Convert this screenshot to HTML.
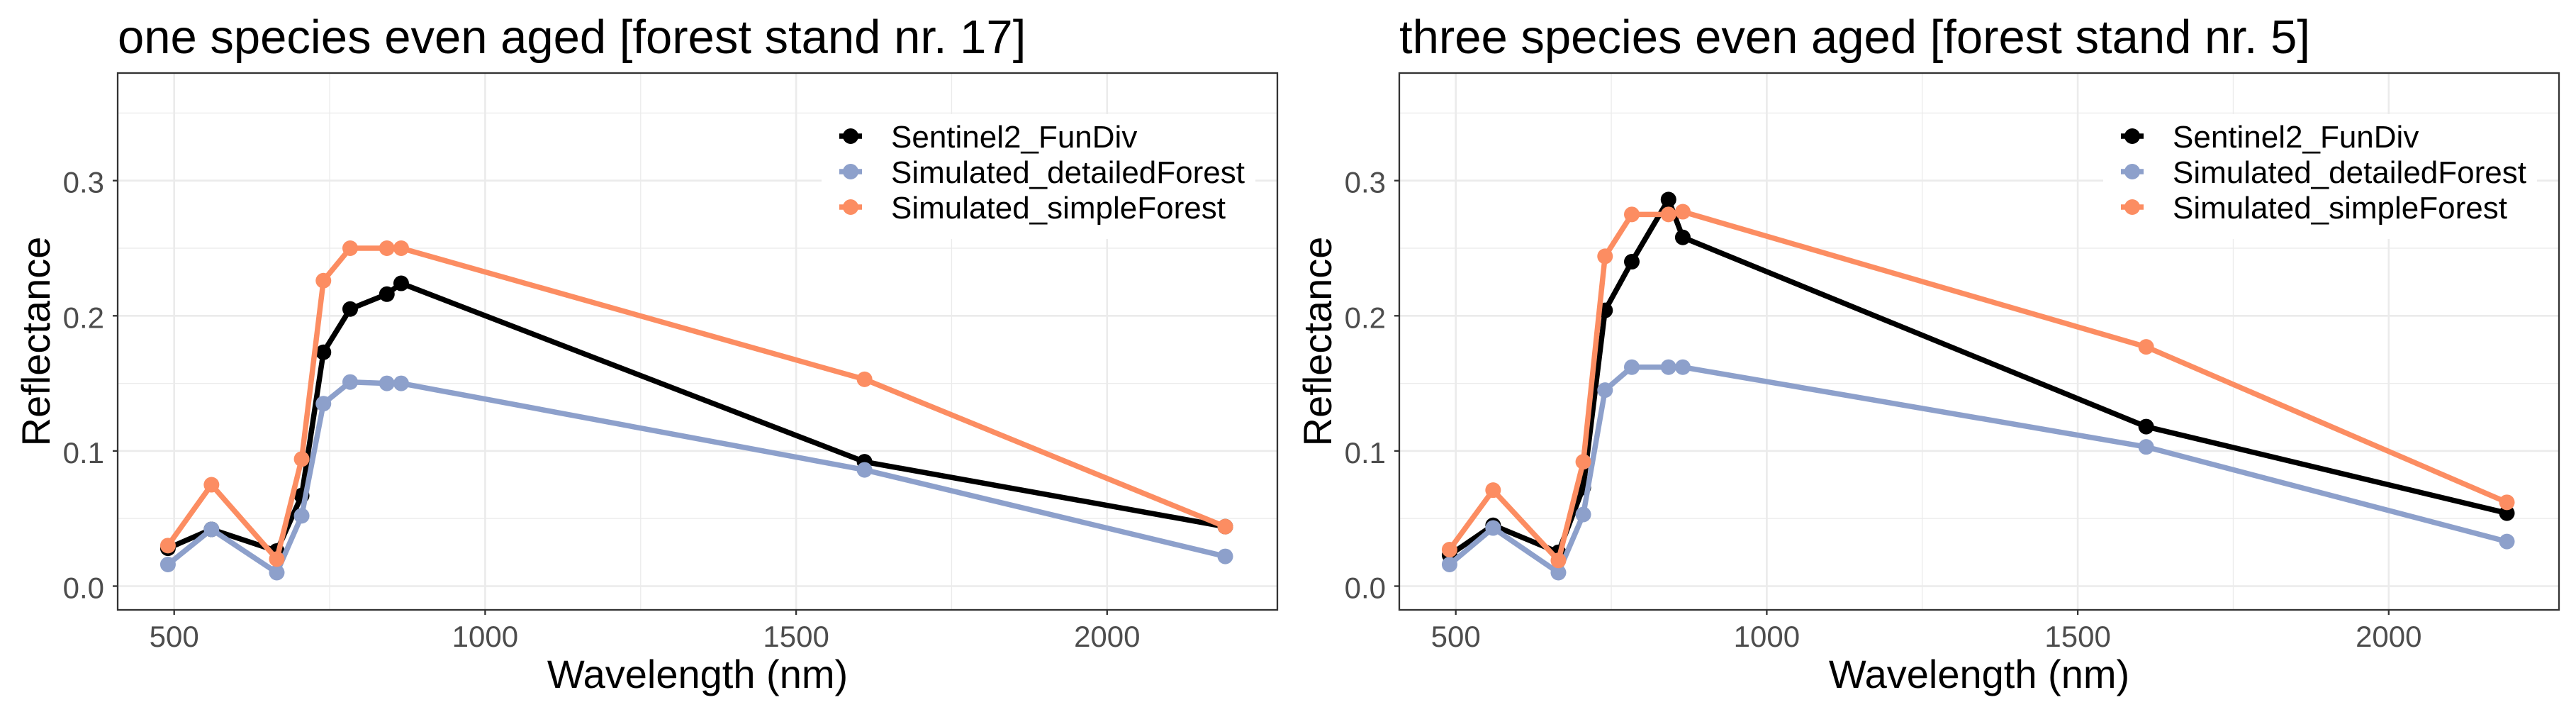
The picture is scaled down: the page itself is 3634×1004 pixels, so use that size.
<!DOCTYPE html>
<html><head><meta charset="utf-8"><style>
html,body{margin:0;padding:0;background:#fff;}
svg{display:block;font-family:"Liberation Sans",Arial,sans-serif;}
</style></head><body>
<svg id="chart" width="3634" height="1004" viewBox="0 0 3634 1004" xmlns="http://www.w3.org/2000/svg"></svg>
<script>
const wavelengths = [490,560,665,705,740,783,842,865,1610,2190];
const seriesNames = ["Sentinel2_FunDiv","Simulated_detailedForest","Simulated_simpleForest"];
const seriesColors = ["#000000","#8DA0CB","#FC8D62"];
const titles = ["one species even aged [forest stand nr. 17]","three species even aged [forest stand nr. 5]"];
const p1Sentinel = [0.028,0.042,0.026,0.067,0.173,0.205,0.216,0.224,0.092,0.044];
const p1Detailed = [0.016,0.042,0.010,0.052,0.135,0.151,0.150,0.150,0.086,0.022];
const p1Simple   = [0.030,0.075,0.020,0.094,0.226,0.250,0.250,0.250,0.153,0.044];
const p2Sentinel = [0.023,0.045,0.025,0.073,0.204,0.240,0.286,0.258,0.118,0.054];
const p2Detailed = [0.016,0.043,0.010,0.053,0.145,0.162,0.162,0.162,0.103,0.033];
const p2Simple   = [0.027,0.071,0.019,0.092,0.244,0.275,0.275,0.277,0.177,0.062];
const xTicks = [500,1000,1500,2000];
const xMinor = [750,1250,1750];
const yTicks = [0,0.1,0.2,0.3];
const yTickLabels = ["0.0","0.1","0.2","0.3"];
const yMinor = [0.05,0.15,0.25,0.35];

const NS="http://www.w3.org/2000/svg";
const svg=document.getElementById('chart');
function mk(tag,attrs,parent){const e=document.createElementNS(NS,tag);for(const k in attrs)e.setAttribute(k,attrs[k]);(parent||svg).appendChild(e);return e;}

function panel(idx, off, data){
  const g=mk('g',{});
  
  
  const L=166+off,R=1802+off,T=103,B=860;
  const xs=w=>245.7+off+(w-500)*0.8774;
  const ys=v=>826.5-v*1906;
  for(const m of xMinor){const l=mk('line',{x1:xs(m),x2:xs(m),y1:T,y2:B,stroke:'#EBEBEB','stroke-width':1.3},g);}
  for(const m of yMinor){const l=mk('line',{x1:L,x2:R,y1:ys(m),y2:ys(m),stroke:'#EBEBEB','stroke-width':1.3},g);}
  xTicks.forEach(t=>{const l=mk('line',{x1:xs(t),x2:xs(t),y1:T,y2:B,stroke:'#EBEBEB','stroke-width':2.6},g);
    const tk=mk('line',{x1:xs(t),x2:xs(t),y1:B,y2:B+7,stroke:'#333','stroke-width':2.3},g);
    const tx=mk('text',{x:xs(t),y:912,'text-anchor':'middle','font-size':42,fill:'#4D4D4D'},g);tx.textContent=t;});
  yTicks.forEach((t,i)=>{const l=mk('line',{x1:L,x2:R,y1:ys(t),y2:ys(t),stroke:'#EBEBEB','stroke-width':2.6},g);
    const tk=mk('line',{x1:L-7,x2:L,y1:ys(t),y2:ys(t),stroke:'#333','stroke-width':2.3},g);
    const tx=mk('text',{x:L-19,y:ys(t)+17,'text-anchor':'end','font-size':42,fill:'#4D4D4D'},g);tx.textContent=yTickLabels[i];});
  const lb=mk('rect',{x:1159+off,y:161,width:612,height:176,fill:'#fff'},g);
  data.forEach((vals,s)=>{
    const pts=vals.map((v,i)=>xs(wavelengths[i])+','+ys(v)).join(' ');
    const pl=mk('polyline',{points:pts,fill:'none',stroke:seriesColors[s],'stroke-width':7.5,'stroke-linejoin':'round'},g);
    
    
    vals.forEach((v,i)=>{const c=mk('circle',{cx:xs(wavelengths[i]),cy:ys(v),r:11,fill:seriesColors[s]},g);
      
      });
  });
  const bd=mk('rect',{x:L,y:T,width:R-L,height:B-T,fill:'none',stroke:'#333','stroke-width':2.3},g);
  seriesNames.forEach((n,s)=>{const y=192+s*50;
    const ll=mk('line',{x1:1184+off,x2:1216+off,y1:y,y2:y,stroke:seriesColors[s],'stroke-width':7.5},g);
    const lc=mk('circle',{cx:1200+off,cy:y,r:11,fill:seriesColors[s]},g);
    const lt=mk('text',{x:1257+off,y:y+16,'font-size':44,fill:'#000'},g);lt.textContent=n;});
  const ti=mk('text',{x:L,y:75,'font-size':67,fill:'#000'},g);ti.textContent=titles[idx];
  const xt=mk('text',{x:(L+R)/2,y:970,'text-anchor':'middle','font-size':56,fill:'#000'},g);xt.textContent='Wavelength (nm)';
  const yt=mk('text',{x:0,y:0,'text-anchor':'middle','font-size':56,fill:'#000',transform:'translate('+(70+off)+','+((T+B)/2)+') rotate(-90)'},g);yt.textContent='Reflectance';
}
panel(0,0,[p1Sentinel,p1Detailed,p1Simple]);
panel(1,1808,[p2Sentinel,p2Detailed,p2Simple]);
</script>
</body></html>
